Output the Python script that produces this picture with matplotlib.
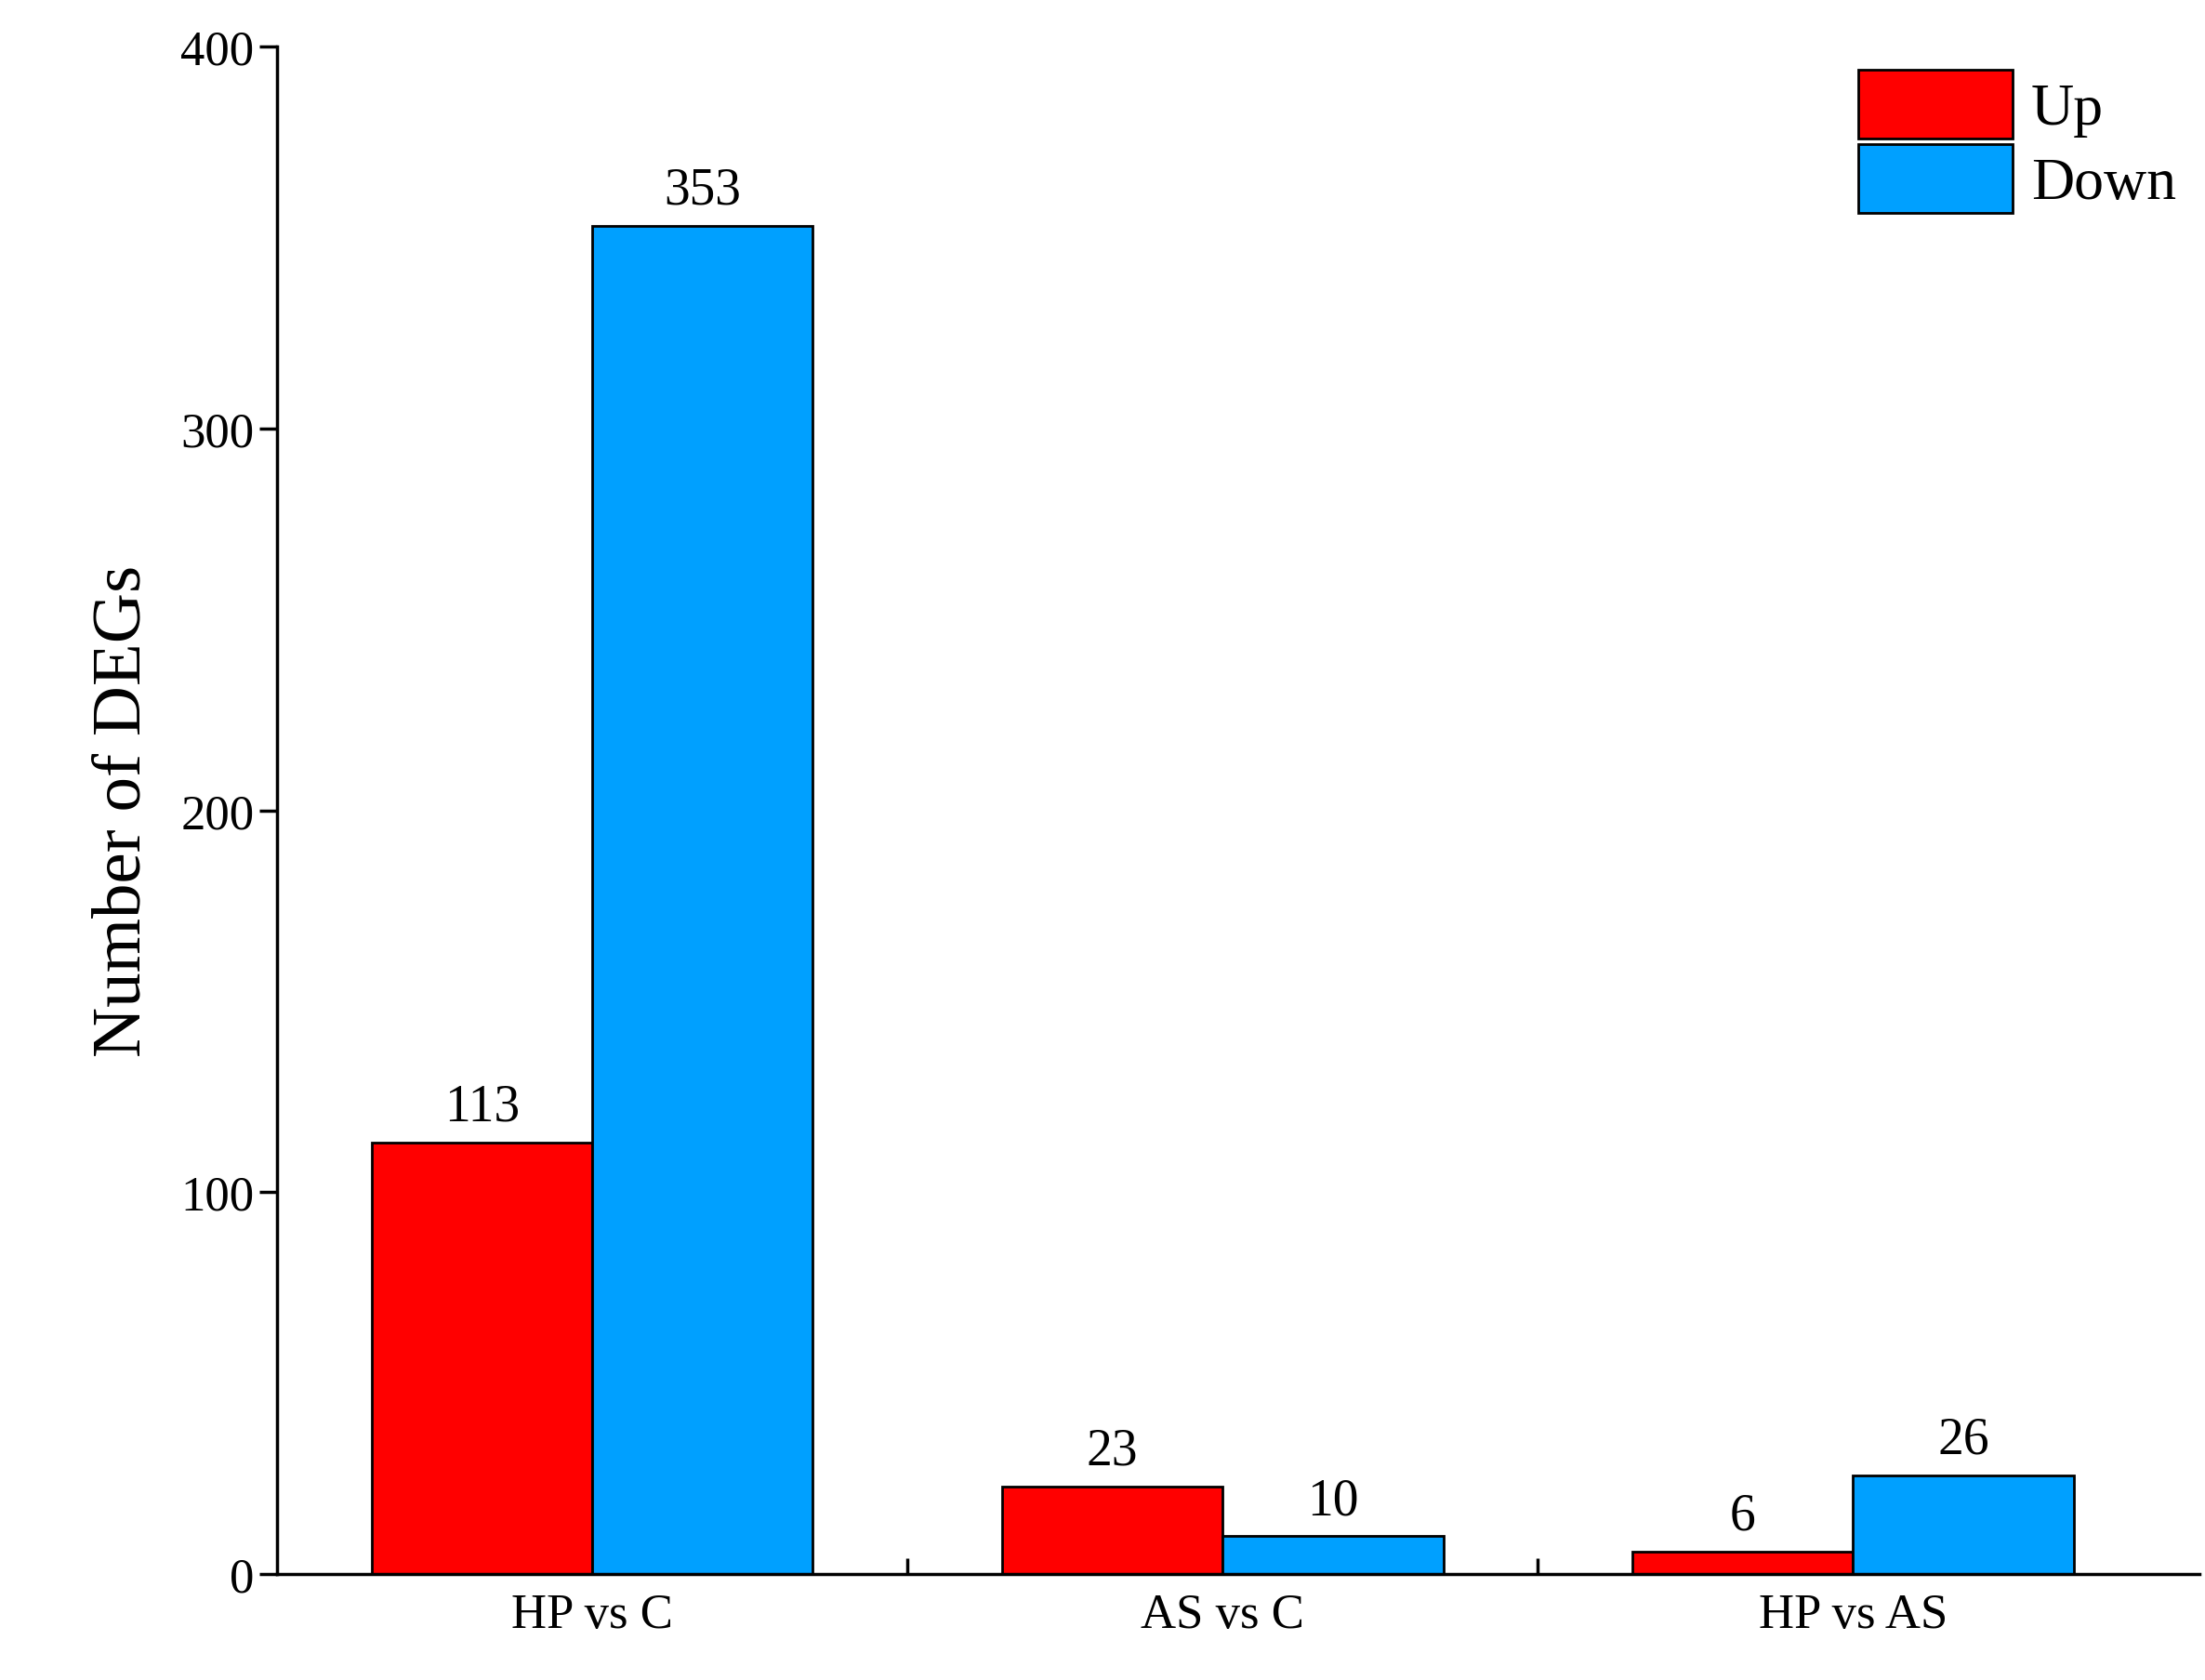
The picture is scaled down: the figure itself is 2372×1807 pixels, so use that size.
import numpy as np
import matplotlib.pyplot as plt
from matplotlib.ticker import FixedLocator

categories = ["HP vs C", "AS vs C", "HP vs AS"]
up_values = [113, 23, 6]
down_values = [353, 10, 26]

plt.rcParams["font.family"] = ["Liberation Serif", "DejaVu Serif"]

fig = plt.figure(figsize=(23.72, 18.08), dpi=100)
ax = fig.add_axes([0.1256, 0.0628, 0.872, 0.9092])

x = np.arange(len(categories))
w = 0.35
b1 = ax.bar(x - w / 2, up_values, w, color="#ff0000", edgecolor="black", linewidth=2, label="Up")
b2 = ax.bar(x + w / 2, down_values, w, color="#00a0ff", edgecolor="black", linewidth=2, label="Down")

for bars, vals in ((b1, up_values), (b2, down_values)):
    for bar, v in zip(bars, vals):
        ax.text(bar.get_x() + bar.get_width() / 2, v + 3, str(v),
                ha="center", va="bottom", fontsize=40)

ax.set_xlim(-0.5, 2.55)
ax.set_ylim(0, 400)
ax.set_yticks([0, 100, 200, 300, 400])
ax.set_xticks(x)
ax.set_xticklabels(categories)
ax.xaxis.set_minor_locator(FixedLocator([0.5, 1.5]))
ax.tick_params(axis="x", which="major", length=0, labelsize=38, pad=14)
ax.tick_params(axis="x", which="minor", direction="in", length=12, width=2.5)
ax.tick_params(axis="y", which="major", direction="out", length=14, width=2.5, labelsize=38)
ax.set_ylabel("Number of DEGs", fontsize=54, labelpad=20)

for s in ("top", "right"):
    ax.spines[s].set_visible(False)
for s in ("left", "bottom"):
    ax.spines[s].set_linewidth(2.5)

ax.legend(loc="upper right", frameon=False, fontsize=46, handlelength=2.6,
          handleheight=1.4, handletextpad=0.3, labelspacing=0.1,
          borderaxespad=0.0, bbox_to_anchor=(1.0, 1.0))

fig.savefig("out.png", dpi=100)
